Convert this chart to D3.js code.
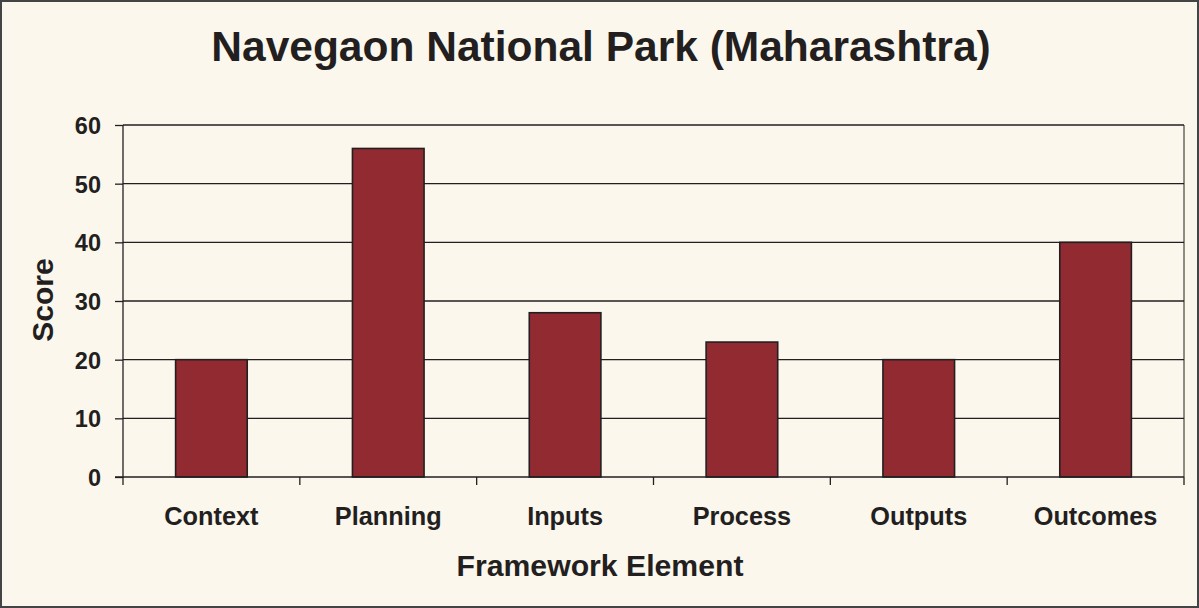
<!DOCTYPE html>
<html>
<head>
<meta charset="utf-8">
<script src="https://cdn.jsdelivr.net/npm/d3@7"></script>
<style>
  html, body { margin: 0; padding: 0; background: #fbf7ed; }
  svg { display: block; font-family: "Liberation Sans", Arial, sans-serif; }
</style>
</head>
<body>
<svg></svg>
<script>
let categories = ['Context', 'Planning', 'Inputs', 'Process', 'Outputs', 'Outcomes']
let scores = [20, 56, 28, 23, 20, 40]
let yTicks = [0, 10, 20, 30, 40, 50, 60]

let width = 1199
let height = 608
let plotLeft = 123
let plotRight = 1184
let plotTop = 125
let plotBottom = 477

let svg = d3.select('svg')
  .attr('width', width)
  .attr('height', height)

let xScale = d3.scaleBand()
  .domain(categories)
  .range([plotLeft, plotRight])
  .paddingInner(0.595)
  .paddingOuter(0.2975)

let yScale = d3.scaleLinear()
  .domain([0, 60])
  .range([plotBottom, plotTop])

// outer frame
svg.append('rect')
  .attr('x', 1).attr('y', 1)
  .attr('width', width - 2).attr('height', height - 2)
  .attr('fill', '#fbf7ed')
  .attr('stroke', '#444')
  .attr('stroke-width', 2)

// gridlines
svg.append('g')
  .selectAll('line')
  .data(yTicks.filter(d => d > 0))
  .enter()
  .append('line')
  .attr('x1', plotLeft).attr('x2', plotRight)
  .attr('y1', d => yScale(d)).attr('y2', d => yScale(d))
  .attr('stroke', '#231f20')
  .attr('stroke-width', 1.3)

// right border of plot area
svg.append('line')
  .attr('x1', plotRight).attr('x2', plotRight)
  .attr('y1', plotTop).attr('y2', plotBottom)
  .attr('stroke', '#231f20')
  .attr('stroke-width', 1)

// bars
svg.append('g')
  .selectAll('rect')
  .data(scores)
  .enter()
  .append('rect')
  .attr('x', (d, i) => xScale(categories[i]))
  .attr('y', d => yScale(d))
  .attr('width', xScale.bandwidth())
  .attr('height', d => plotBottom - yScale(d))
  .attr('fill', '#922b31')
  .attr('stroke', '#231f20')
  .attr('stroke-width', 1.6)

// y axis
let yAxis = d3.axisLeft(yScale)
  .tickValues(yTicks)
  .tickSize(8)
  .tickPadding(14)

let yg = svg.append('g')
  .attr('transform', 'translate(' + plotLeft + ', 0)')
  .call(yAxis)
yg.select('.domain').attr('stroke', '#231f20').attr('stroke-width', 1.3)
  .attr('d', 'M0,' + plotTop + 'V' + plotBottom)
yg.selectAll('.tick line').attr('stroke', '#231f20').attr('stroke-width', 1.3)
yg.selectAll('.tick text')
  .attr('fill', '#231f20')
  .style('font-size', '23.5px')
  .style('font-weight', 'bold')
  .attr('dy', '0.36em')

// x axis
let xg = svg.append('g')
  .attr('transform', 'translate(0, ' + plotBottom + ')')
xg.append('line')
  .attr('x1', plotLeft - 8).attr('x2', plotRight)
  .attr('y1', 0).attr('y2', 0)
  .attr('stroke', '#231f20').attr('stroke-width', 1.3)
xg.selectAll('line.sep')
  .data(d3.range(categories.length + 1))
  .enter()
  .append('line')
  .attr('class', 'sep')
  .attr('x1', i => plotLeft + i * xScale.step()).attr('x2', i => plotLeft + i * xScale.step())
  .attr('y1', 0).attr('y2', 8)
  .attr('stroke', '#231f20').attr('stroke-width', 1.3)
xg.selectAll('text')
  .data(categories)
  .enter()
  .append('text')
  .attr('x', d => xScale(d) + xScale.bandwidth() / 2)
  .attr('y', 48)
  .attr('text-anchor', 'middle')
  .attr('fill', '#231f20')
  .style('font-size', '25.3px')
  .style('font-weight', 'bold')
  .text(d => d)

// title
svg.append('text')
  .attr('x', 601)
  .attr('y', 61)
  .attr('text-anchor', 'middle')
  .attr('fill', '#231f20')
  .style('font-size', '42.5px')
  .style('font-weight', 'bold')
  .text('Navegaon National Park (Maharashtra)')

// axis titles
svg.append('text')
  .attr('x', 600)
  .attr('y', 576)
  .attr('text-anchor', 'middle')
  .attr('fill', '#231f20')
  .style('font-size', '30.2px')
  .style('font-weight', 'bold')
  .text('Framework Element')

svg.append('text')
  .attr('transform', 'translate(53, 300) rotate(-90)')
  .attr('text-anchor', 'middle')
  .attr('fill', '#231f20')
  .style('font-size', '30px')
  .style('font-weight', 'bold')
  .text('Score')
</script>
</body>
</html>
